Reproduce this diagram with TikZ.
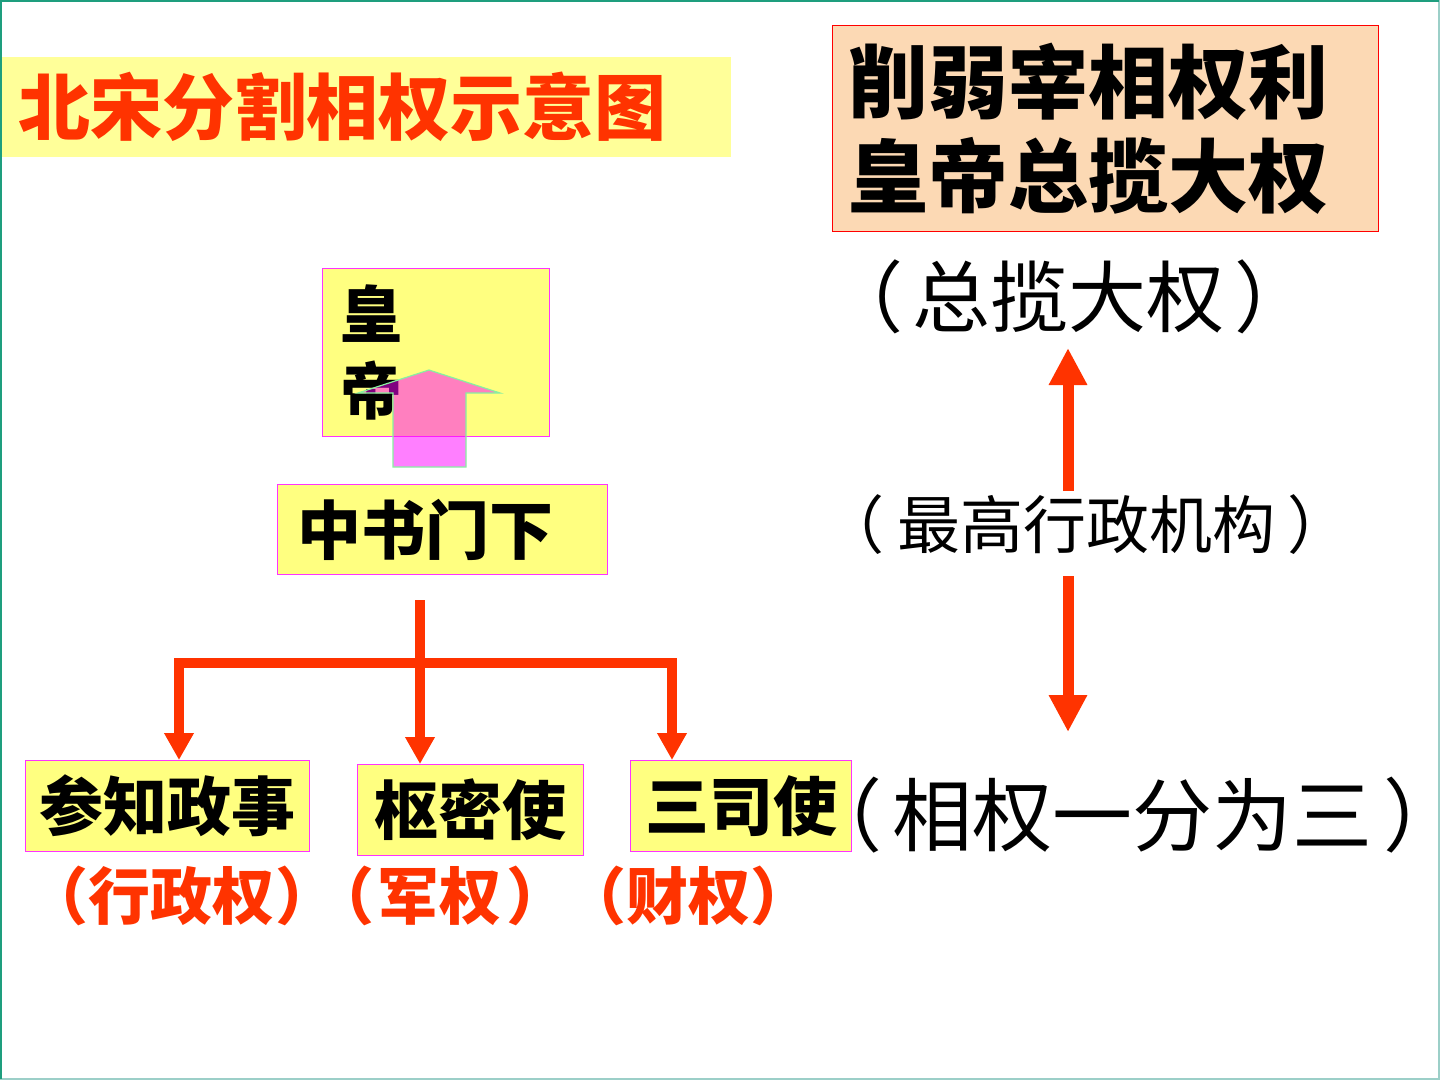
\documentclass[tikz,border=0pt]{standalone}
\usepackage{fontspec}
\newfontfamily\cjk{Noto Sans CJK SC}
\newfontfamily\cjkp[RawFeature=+palt]{Noto Sans CJK SC}
\usetikzlibrary{arrows.meta,calc}
\definecolor{redc}{HTML}{FF3300}
\definecolor{titley}{HTML}{FFFF99}
\definecolor{boxy}{HTML}{FFFF80}
\definecolor{boxmag}{HTML}{FF33FF}
\definecolor{peach}{HTML}{FCD9B4}
\definecolor{borderdark}{HTML}{1E9E7E}
\definecolor{borderlight}{HTML}{9CCFC8}
\definecolor{outlinegreen}{HTML}{88F0A0}
\definecolor{pinkfill}{RGB}{255,0,255}
\newcommand{\lpar}{{\cjkp （}}
\newcommand{\rpar}{{\cjkp ）}}
\begin{document}
\begin{tikzpicture}[x=1pt,y=-1pt,
  ybox/.style={draw=boxmag, line width=1.2pt, fill=boxy, inner sep=0pt,
    font=\cjk\bfseries\fontsize{64}{70}\selectfont},
  tree/.style={draw=redc, line width=9.5pt, line join=miter,
    -{Triangle[width=28pt,length=27pt]}},
  bigarr/.style={draw=redc, line width=11pt, -{Triangle[width=36pt,length=37pt]}},
  redlab/.style={inner sep=0pt, text=redc, font=\cjk\bfseries\fontsize{62}{66}\selectfont},
  sertext/.style={inner sep=0pt, text=black}]
\useasboundingbox (0,0) rectangle (1440,1080);
\fill[white] (0,0) rectangle (1440,1080);
% page border
\draw[borderlight, line width=2pt] (1439,0) -- (1439,1079) -- (0,1079);
\draw[borderdark, line width=2.5pt] (1,1079) -- (1,1) -- (1439,1);

% title
\node[fill=titley, anchor=north west, minimum width=729pt, minimum height=100pt,
  inner xsep=16pt, inner ysep=0pt, text width=697pt, align=left, text=redc,
  font=\cjk\bfseries\fontsize{72}{80}\selectfont] (title) at (2,57) {北宋分割相权示意图};

% top right box
\node[draw=red, line width=1.2pt, fill=peach, anchor=north west, minimum width=546pt,
  minimum height=206pt, inner xsep=16pt, inner ysep=0pt, text width=514pt, align=left,
  font=\cjk\bfseries\fontsize{80}{94}\selectfont] (summary) at (832,25)
  {削弱宰相权利\\皇帝总揽大权};

% right column texts
\node[sertext, font=\cjk\fontsize{78}{80}\selectfont] (zl) at (1069,297)
  {\lpar\kern12pt 总揽大权\kern12pt\rpar};
\node[sertext, font=\cjk\fontsize{63}{66}\selectfont] (zg) at (1086,525)
  {\lpar\kern15pt 最高行政机构\kern15pt\rpar};
\node[sertext, font=\cjk\fontsize{80}{82}\selectfont] (xq) at (1133,815)
  {\lpar\kern13pt 相权一分为三\kern13pt\rpar};

\coordinate (upS) at (1068,491);
\coordinate (upE) at (1068,348);
\coordinate (dnS) at (1068,576);
\coordinate (dnE) at (1068,732);
\draw[bigarr] (upS) -- (upE);
\draw[bigarr] (dnS) -- (dnE);

% emperor box
\node[ybox, anchor=north west, minimum width=227pt, minimum height=168pt,
  inner xsep=18pt, text width=191pt, align=left,
  font=\cjk\bfseries\fontsize{62}{77}\selectfont] (hd) at (322,268) {皇\\帝};

% pink block arrow
\draw[fill=pinkfill, fill opacity=0.5, draw=outlinegreen, line width=1.2pt, line join=miter]
  (393,467) -- (393,393) -- (358,393) -- (429,370) -- (500,393) -- (466,393) -- (466,467) -- cycle;

% zhongshu menxia
\node[ybox, anchor=north west, minimum width=330pt, minimum height=90pt,
  inner xsep=20pt, text width=290pt, align=left] (zs) at (277,484) {中书门下};

% bottom boxes
\node[ybox, anchor=north west, minimum width=284pt, minimum height=91pt] (cz) at (25,760) {参知政事};
\node[ybox, anchor=north west, minimum width=226pt, minimum height=91pt] (sm) at (357,764) {枢密使};
\node[ybox, anchor=north west, minimum width=221pt, minimum height=91pt] (ss) at (630,760) {三司使};

% tree connectors
\coordinate (trunk) at (420,600);
\coordinate (junc) at (420,663);
\coordinate (lb) at (179,663);
\coordinate (rb) at (672,663);
\draw[tree] (trunk) -- (trunk |- sm.north);
\draw[tree] (junc) -- (lb) -- (lb |- cz.north);
\draw[tree] (junc) -- (rb) -- (rb |- ss.north);

% red labels
\node[redlab] (l1) at (182,896) {（行政权）};
\node[redlab] (l2) at (440,896) {（\kern4pt 军权\kern4pt）};
\node[redlab] (l3) at (688,896) {（财权）};
\end{tikzpicture}
\end{document}
